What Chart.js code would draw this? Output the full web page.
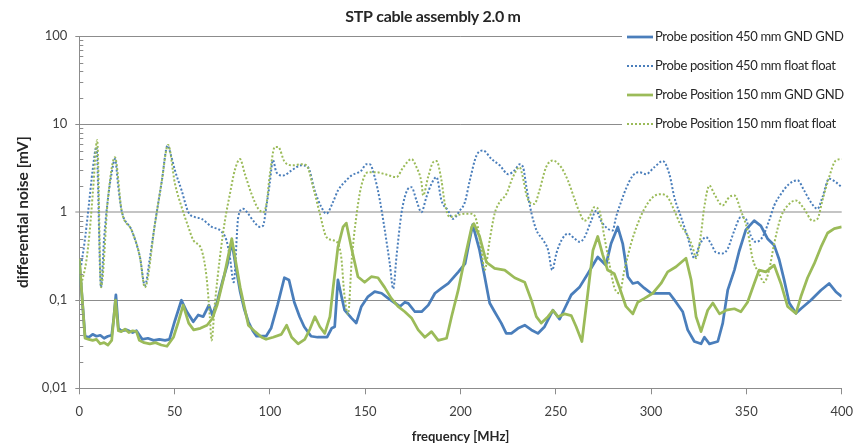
<!DOCTYPE html>
<html>
<head>
<meta charset="utf-8">
<title>STP cable assembly 2.0 m</title>
<script src="https://cdn.jsdelivr.net/npm/chart.js@4.4.1/dist/chart.umd.min.js"></script>
<style>
  html, body { margin: 0; padding: 0; background: #fff; }
</style>
</head>
<body>
<canvas id="noise-chart" width="863" height="445"></canvas>
<script>
// Differential noise on a 2.0 m STP cable, four probe set-ups, log scale.

const TITLE = "STP cable assembly 2.0 m";
const X_TITLE = "frequency [MHz]";
const Y_TITLE = "differential noise [mV]";

const Y_TICKS = [0.01, 0.1, 1, 10, 100];
const Y_TICK_LABELS = ["0,01", "0,1", "1", "10", "100"];

const SERIES_LABELS = [
  "Probe position 450 mm GND GND",
  "Probe position 450 mm float float",
  "Probe Position 150 mm GND GND",
  "Probe Position 150 mm float float",
];

// ===== 450 mm, GND GND =====
const GND450_MHZ = [0, 3, 5, 7, 9, 11, 13, 15, 17, 18, 19.2, 20.5, 22, 25, 28, 30, 33, 36, 39, 42, 45, 47.3,
  50, 53.6, 56.3, 59.8, 62.4, 65, 68, 69.8, 72.3, 75, 77.6, 80, 82, 84.4, 86.5, 88.7, 91, 93, 96, 98,
  100.6, 104, 107.6, 110, 112.8, 115.6, 118, 121.6, 125, 128, 130, 132.4, 134, 135.7, 138, 139.2, 142.7,
  145.3, 148, 151.5, 155, 158.6, 162.1, 165.6, 168.2, 170.8, 172.6, 176.1, 179.6, 183.1, 186.6, 190.1,
  193.6, 198.9, 202.4, 204.5, 206.4, 210, 212.7, 215.3, 217.9, 221.4, 224, 226.7, 230.2, 233.7, 237.2,
  240.6, 244.1, 248.5, 252, 254.6, 258.1, 262.4, 266.8, 272, 276.3, 279, 282.5, 285.1, 287.8, 290.4, 293,
  296.5, 300, 305.2, 309.6, 313.1, 316.6, 319.2, 322.7, 326.2, 328, 330.6, 335, 337.6, 340.2, 343.7,
  346.2, 349.7, 354.1, 357.6, 361.1, 364.6, 367.2, 369.8, 372.5, 376, 378.6, 383.8, 389.1, 393.4, 396.9, 400];
const GND450_MV = [0.28, 0.039, 0.038, 0.041, 0.039, 0.040, 0.037, 0.039, 0.040, 0.06, 0.115, 0.048, 0.045,
  0.046, 0.043, 0.045, 0.036, 0.037, 0.035, 0.036, 0.035, 0.036,
  0.057, 0.1, 0.075, 0.057, 0.068, 0.065, 0.088, 0.068, 0.095, 0.16, 0.25, 0.46, 0.25, 0.125, 0.08, 0.057,
  0.045, 0.039, 0.039, 0.039,
  0.048, 0.088, 0.18, 0.17, 0.095, 0.065, 0.05, 0.039, 0.038, 0.038, 0.038, 0.048, 0.05, 0.17, 0.1, 0.077,
  0.063, 0.055, 0.085, 0.11, 0.125, 0.12, 0.105, 0.093, 0.085, 0.095, 0.092, 0.074, 0.074, 0.088, 0.12,
  0.137, 0.155, 0.21, 0.26, 0.45, 0.72, 0.37, 0.185, 0.093, 0.074, 0.055, 0.042, 0.042, 0.048, 0.052,
  0.046, 0.042, 0.05, 0.077, 0.061, 0.08, 0.115, 0.14, 0.2, 0.31, 0.25, 0.44, 0.68, 0.44, 0.185, 0.155,
  0.16, 0.137, 0.12, 0.12, 0.12, 0.095, 0.074, 0.046, 0.034, 0.032, 0.038, 0.032, 0.034, 0.055, 0.13, 0.22,
  0.36, 0.63, 0.8, 0.7, 0.5, 0.42, 0.29, 0.17, 0.093, 0.071, 0.08, 0.1, 0.13, 0.155, 0.125, 0.11];

// ===== 450 mm, float float =====
const FLOAT450_MHZ = [1, 3, 5, 7, 9, 11.4, 13, 15, 17, 18.7, 20.5, 22.2, 27.5, 31.8, 34.4, 37, 39.7, 43.2,
  46.3, 48, 50.2, 53.7, 57.2, 60.7, 64.2, 69.5, 73.9, 77.2, 79, 81, 83.4, 86, 88.6, 91.2, 94.7, 96.4, 98.1,
  99.9, 101.6, 103.4, 106.9, 111.3, 116.5, 120, 123.5, 127, 129.6, 133.1, 135.7, 139.2, 142.7, 148, 150.6,
  152.4, 155, 157.7, 160.3, 162.9, 164.7, 166.4, 169, 171.6, 174.3, 176.9, 179.5, 182.1, 184.8, 187.4, 190,
  193.5, 196.1, 199.6, 202.3, 204.9, 208.4, 211.9, 216.3, 220.6, 225, 228.5, 231.1, 232.9, 234.6, 237.3,
  239.9, 243.4, 246, 248.1, 250.3, 253, 256.4, 259.9, 262.5, 265.1, 268.6, 271.2, 273.7, 277.2, 279.8,
  281.6, 284.2, 286.8, 290.4, 293.8, 297.3, 301.7, 306.1, 309.6, 312.2, 315.7, 319.2, 322.7, 325.3, 328.8,
  331.4, 334, 337.5, 340.1, 343.7, 347.1, 349.7, 352.3, 354.9, 358.4, 361.9, 364.6, 368.1, 372.5, 376.8,
  380.3, 383.8, 387.3, 389.9, 393.4, 396.9, 400];
const FLOAT450_MV = [0.25, 0.5, 1.2, 3.0, 5.5, 0.14, 0.5, 1.4, 2.8, 4.0, 1.9, 1.04, 0.62, 0.31, 0.147, 0.3,
  0.74, 2.19, 5.7, 4.5, 2.97, 1.76, 1.0, 0.88, 0.84, 0.68, 0.62, 0.48, 0.31, 0.16, 0.88, 1.09, 0.96, 0.8,
  0.68, 0.7, 1.14, 2.1, 3.9, 2.84, 2.6, 2.97, 3.4, 3.24, 1.76, 1.14, 0.96, 1.3, 1.76, 2.19, 2.6, 2.97, 3.5,
  3.5, 2.5, 1.36, 0.62, 0.26, 0.135, 0.31, 0.96, 1.69, 1.92, 1.36, 1.0, 1.48, 2.1, 2.5, 1.36, 1.04, 0.84,
  1.04, 1.3, 2.3, 4.4, 5.0, 4.0, 3.4, 2.7, 3.0, 3.5, 3.2, 1.92, 0.96, 0.62, 0.48, 0.37, 0.22, 0.34, 0.48,
  0.57, 0.5, 0.46, 0.52, 0.8, 1.04, 0.8, 0.65, 0.62, 0.88, 1.3, 1.84, 2.6, 2.84, 2.7, 3.24, 3.8, 2.7, 1.48,
  0.88, 0.52, 0.3, 0.42, 0.52, 0.44, 0.35, 0.34, 0.38, 0.62, 0.88, 0.84, 0.54, 0.46, 0.52, 0.8, 1.19, 1.6,
  2.1, 2.3, 1.76, 1.3, 1.09, 1.48, 2.4, 2.19, 1.92];

// ===== 150 mm, GND GND =====
const GND150_MHZ = [0, 3, 5, 7, 9, 11, 13, 15, 17, 19, 20.5, 22, 24, 26, 28, 30, 31.5, 34, 37, 40, 43, 46,
  49.4, 52, 54.5, 57.4, 60, 63.5, 67, 69.8, 72.3, 75.8, 80, 84.4, 88.7, 92.2, 95.7, 98, 101.7, 106, 108.8,
  111.4, 114.8, 118.3, 121, 123.6, 126.2, 128.8, 131.5, 133.2, 135.7, 138.4, 140.1, 142.7, 146.2, 149.7,
  153.2, 156.7, 160.2, 163.7, 167.2, 170.8, 174.3, 177.8, 181.3, 184.8, 188.3, 192.7, 195.3, 198.8, 202.4,
  205.9, 207, 210, 213.6, 217.9, 223.2, 228.4, 233.7, 237.2, 239.8, 242.4, 245.9, 248.5, 251.1, 254.6,
  258.1, 260.7, 263.7, 266.8, 269.5, 272, 274.6, 277.2, 280.7, 283.4, 286.8, 290.4, 293, 296.5, 300.9,
  305.2, 308.7, 313.1, 318.3, 321, 323.6, 326.2, 329.7, 332.4, 335.9, 339.4, 343.7, 347.1, 350.6, 354.1,
  356.7, 360.2, 364.6, 368.1, 371.6, 376, 378.6, 382.1, 385.6, 389.1, 392.6, 396.1, 400];
const GND150_MV = [0.30, 0.037, 0.036, 0.035, 0.036, 0.032, 0.033, 0.031, 0.035, 0.1, 0.045, 0.044, 0.047,
  0.043, 0.045, 0.044, 0.035, 0.033, 0.032, 0.033, 0.031, 0.030,
  0.038, 0.057, 0.088, 0.055, 0.046, 0.048, 0.052, 0.062, 0.088, 0.18, 0.5, 0.14, 0.052, 0.044, 0.038, 0.036,
  0.038, 0.041, 0.052, 0.038, 0.032, 0.036, 0.047, 0.065, 0.05, 0.042, 0.065, 0.14, 0.4, 0.68, 0.75, 0.4,
  0.185, 0.16, 0.185, 0.18, 0.14, 0.105, 0.085, 0.074, 0.063, 0.046, 0.038, 0.044, 0.035, 0.037, 0.065,
  0.13, 0.31, 0.68, 0.74, 0.53, 0.27, 0.23, 0.22, 0.18, 0.16, 0.1, 0.065, 0.055, 0.065, 0.077, 0.065, 0.07,
  0.067, 0.05, 0.034, 0.12, 0.37, 0.53, 0.33, 0.22, 0.2, 0.14, 0.085, 0.07, 0.095, 0.105, 0.12, 0.155, 0.21,
  0.24, 0.3, 0.17, 0.065, 0.044, 0.077, 0.093, 0.07, 0.077, 0.08, 0.074, 0.095, 0.155, 0.22, 0.21, 0.25,
  0.155, 0.085, 0.071, 0.11, 0.18, 0.26, 0.4, 0.58, 0.65, 0.68];

// ===== 150 mm, float float =====
const FLOAT150_MHZ = [1, 3.7, 5.5, 7.2, 9.4, 11.4, 15, 18.7, 22.2, 27.5, 31.8, 34.4, 39.7, 43.2, 46.6, 50.2,
  53.7, 57.2, 59.8, 64.2, 66.8, 68.5, 69.4, 71.1, 73.8, 76.4, 79, 81.6, 84.3, 86.9, 90.4, 93.9, 96.5, 98.2,
  100, 102.6, 104.3, 107.8, 112.2, 116.5, 119.2, 122.7, 126.2, 129.7, 133.2, 135.7, 137.5, 139, 141, 143,
  145.3, 148, 151.5, 155.9, 160.3, 166.4, 170, 174.3, 176.9, 179.5, 180.4, 183, 185.7, 187.4, 190, 191.8,
  194.4, 197.9, 202.3, 205.8, 208.4, 211, 212.7, 215.3, 217.9, 220.5, 224, 227.5, 231, 232.7, 234.5, 236.2,
  238.8, 241.4, 244.9, 248.4, 252.8, 256.3, 259.8, 262.4, 265, 267.6, 270.2, 272.8, 275.5, 278.1, 280.7,
  283.4, 286, 289.5, 293, 296.5, 300.9, 305.2, 308.7, 312.2, 315.7, 319.2, 321.8, 323.6, 326.2, 327.9,
  330.6, 333.2, 337.5, 341, 343.7, 347.1, 350.6, 353.2, 356.7, 359.3, 361.9, 364.6, 368.1, 372.5, 376,
  380.3, 384.7, 387.3, 389.9, 393.4, 396.9, 400];
const FLOAT150_MV = [0.15, 0.28, 0.62, 1.76, 6.6, 0.14, 1.4, 4.2, 1.04, 0.62, 0.31, 0.14, 0.74, 2.19, 5.8,
  2.1, 1.14, 0.68, 0.48, 0.37, 0.18, 0.064, 0.035, 0.09, 0.31, 0.8, 1.6, 3.0, 4.0, 2.7, 1.6, 1.09, 1.0,
  1.24, 2.7, 5.5, 5.5, 3.7, 3.4, 3.5, 3.4, 1.92, 0.96, 0.52, 0.48, 0.44, 0.3, 0.12, 0.07, 0.3, 0.88, 2.0,
  2.84, 2.84, 2.7, 2.5, 3.24, 4.0, 3.24, 2.19, 1.55, 2.5, 3.7, 3.8, 2.3, 1.24, 0.88, 0.92, 0.96, 0.96, 0.8,
  0.37, 0.22, 0.48, 0.96, 1.3, 1.6, 2.5, 3.24, 2.5, 1.6, 1.3, 1.24, 1.76, 3.24, 3.86, 3.24, 2.3, 1.42, 1.0,
  0.8, 0.88, 1.14, 1.04, 0.52, 0.26, 0.14, 0.12, 0.22, 0.44, 0.74, 1.09, 1.48, 1.6, 1.48, 1.04, 0.7, 0.54,
  0.4, 0.3, 0.57, 1.14, 2.0, 1.6, 1.19, 1.48, 1.55, 1.04, 0.62, 0.3, 0.2, 0.16, 0.22, 0.44, 0.88, 1.24,
  1.36, 1.09, 0.8, 0.84, 1.36, 2.5, 3.86, 4.0];

const BLUE = "#4a7ebb";
const GREEN = "#9bbb59";
const AXIS_GREY = "#8c8c8c";
const TEXT_DARK = "#262626";
const FONT = "Lato, 'Open Sans', sans-serif";

function toPoints(xs, ys) {
  return xs.map((x, i) => ({ x, y: ys[i] }));
}

function solid(label, color, xs, ys, order) {
  return {
    label, data: toPoints(xs, ys), order,
    borderColor: color, borderWidth: 2.75, pointRadius: 0,
    borderJoinStyle: "round", tension: 0,
  };
}

function dotted(label, color, xs, ys, order) {
  return {
    label, data: toPoints(xs, ys), order,
    borderColor: color, borderWidth: 2, pointRadius: 0,
    borderDash: [2, 2], borderCapStyle: "butt",
    cubicInterpolationMode: "monotone",
  };
}

// title, minor log ticks and the boxed legend on the right
const decor = {
  id: "decor",
  afterDraw(chart) {
    const ctx = chart.ctx;
    const y = chart.scales.y;
    const left = chart.chartArea.left;
    ctx.save();

    ctx.strokeStyle = AXIS_GREY;
    ctx.lineWidth = 1;
    for (let d = 0; d < Y_TICKS.length - 1; d++) {
      for (let m = 2; m <= 9; m++) {
        const py = Math.round(y.getPixelForValue(Y_TICKS[d] * m)) + 0.5;
        ctx.beginPath();
        ctx.moveTo(left, py);
        ctx.lineTo(left + 4, py);
        ctx.stroke();
      }
    }

    ctx.fillStyle = TEXT_DARK;
    ctx.font = "bold 16px " + FONT;
    ctx.textAlign = "center";
    ctx.textBaseline = "middle";
    ctx.letterSpacing = "-0.3px";
    ctx.fillText(TITLE, 433, 17);

    ctx.fillStyle = "#fff";
    ctx.fillRect(622, 24, 241, 114);
    ctx.font = "13px " + FONT;
    ctx.textAlign = "left";
    ctx.letterSpacing = "-0.35px";
    chart.data.datasets.forEach((ds, i) => {
      const ly = 37 + i * 29;
      ctx.strokeStyle = ds.borderColor;
      ctx.lineWidth = ds.borderWidth;
      ctx.setLineDash(ds.borderDash || []);
      ctx.beginPath();
      ctx.moveTo(627, ly);
      ctx.lineTo(653, ly);
      ctx.stroke();
      ctx.setLineDash([]);
      ctx.fillStyle = TEXT_DARK;
      ctx.fillText(ds.label, 655, ly);
    });
    ctx.letterSpacing = "0px";
    ctx.restore();
  },
};

new Chart(document.getElementById("noise-chart"), {
  type: "line",
  data: {
    datasets: [
      solid(SERIES_LABELS[0], BLUE, GND450_MHZ, GND450_MV, 4),
      dotted(SERIES_LABELS[1], BLUE, FLOAT450_MHZ, FLOAT450_MV, 3),
      solid(SERIES_LABELS[2], GREEN, GND150_MHZ, GND150_MV, 2),
      dotted(SERIES_LABELS[3], GREEN, FLOAT150_MHZ, FLOAT150_MV, 1),
    ],
  },
  options: {
    responsive: false,
    animation: false,
    devicePixelRatio: 1,
    layout: { padding: { top: 36, right: 20, bottom: 0, left: 0 } },
    plugins: {
      legend: { display: false },
      title: { display: false },
      tooltip: { enabled: false },
    },
    scales: {
      x: {
        type: "linear",
        min: 0,
        max: 400,
        ticks: { stepSize: 50, maxRotation: 0, padding: 10, color: "#404040", font: { family: FONT, size: 13 } },
        grid: { drawOnChartArea: false, drawTicks: true, tickLength: 6, color: AXIS_GREY },
        border: { color: AXIS_GREY },
        title: {
          display: true, text: X_TITLE, color: TEXT_DARK,
          font: { family: FONT, size: 13, weight: "bold" }, padding: { top: 0, bottom: 0 },
        },
        afterFit(scale) { scale.height = 56.7; },
      },
      y: {
        type: "logarithmic",
        min: 0.01,
        max: 100,
        afterBuildTicks(scale) {
          scale.ticks = Y_TICKS.map((v) => ({ value: v, major: true }));
        },
        ticks: {
          padding: 8,
          color: "#404040",
          font: { family: FONT, size: 13 },
          callback: (v) => {
            const i = Y_TICKS.indexOf(v);
            return i >= 0 ? Y_TICK_LABELS[i] : "";
          },
        },
        grid: {
          tickLength: 4,
          color: (c) => (c.tick && c.tick.value === 1 ? "#c4c4c4" : AXIS_GREY),
          lineWidth: (c) => (c.tick && c.tick.value === 1 ? 2 : 1),
        },
        border: { color: AXIS_GREY },
        title: {
          display: true, text: Y_TITLE, color: TEXT_DARK,
          font: { family: FONT, size: 15.5, weight: "bold" }, padding: { top: 14, bottom: 0 },
        },
        afterFit(scale) { scale.width = 79.3; },
      },
    },
  },
  plugins: [decor],
});
</script>
</body>
</html>
